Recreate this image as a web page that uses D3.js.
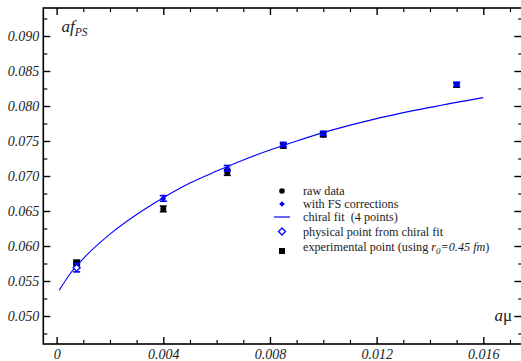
<!DOCTYPE html>
<html>
<head>
<meta charset="utf-8">
<script src="https://cdn.jsdelivr.net/npm/d3@7/dist/d3.min.js"></script>
<style>
  html, body { margin: 0; padding: 0; background: #fff; }
  svg { display: block; }
</style>
</head>
<body>
<svg id="chart" width="521" height="361"></svg>
<script>
// Quark mass values and decay constants
const muValues = [0.0040, 0.0064, 0.0085, 0.0100, 0.0150];
const rawValues = [0.0653, 0.0705, 0.0743, 0.0759, 0.0830];
const rawErrors = [0.0004, 0.0004, 0.0003, 0.0003, 0.0003];
const fsValues = [0.0668, 0.0711, 0.0745, 0.0761, 0.0831];
const fsErrors = [0.0004, 0.0004, 0.0003, 0.0003, 0.0003];

// Chiral fit curve
const fitMu = [0.0001, 0.0005, 0.0010, 0.0020, 0.0030, 0.0040, 0.0050, 0.0060,
               0.0070, 0.0080, 0.0090, 0.0100, 0.0120, 0.0140, 0.0160];
const fitValues = [0.0537, 0.0560, 0.0582, 0.0617, 0.0645, 0.0669, 0.0690, 0.0707,
                   0.0723, 0.0737, 0.0750, 0.0762, 0.0782, 0.0798, 0.0812];

// Physical point and experimental value
const physicalPoint = { mu: 0.00075, f: 0.0569, err: 0.0006 };
const experimentalPoint = { mu: 0.00075, f: 0.0576 };

// Axis ticks
const xMajorTicks = [0, 0.004, 0.008, 0.012, 0.016];
const xTickLabels = ["0", "0.004", "0.008", "0.012", "0.016"];
const yMajorTicks = [0.050, 0.055, 0.060, 0.065, 0.070, 0.075, 0.080, 0.085, 0.090];
const yTickLabels = ["0.050", "0.055", "0.060", "0.065", "0.070", "0.075", "0.080", "0.085", "0.090"];

const legendLabels = ["raw data", "with FS corrections", "chiral fit  (4 points)",
                      "physical point from chiral fit", "experimental point (using "];

const SERIF = "'Liberation Serif'";
const INK = "#222";

const svg = d3.select("#chart");
const plotL = 43.3, plotR = 523.3, plotT = 8, plotB = 344;

const x = d3.scaleLinear().domain([-0.0005, 0.0175]).range([plotL, plotR]);
const y = d3.scaleLinear().domain([0.046, 0.094]).range([plotB, plotT]);

const blue = "#0000ff";

// Frame
svg.append("rect")
  .attr("x", plotL).attr("y", plotT)
  .attr("width", plotR - plotL).attr("height", plotB - plotT)
  .attr("fill", "none").attr("stroke", "#000").attr("stroke-width", 1.6);

// Ticks (inward on all four sides)
const xMinor = d3.range(0, 0.0175, 0.001).filter(v => !xMajorTicks.some(t => Math.abs(t - v) < 1e-9));
const yMinor = d3.range(0.0475, 0.094, 0.0025).filter(v => !yMajorTicks.some(t => Math.abs(t - v) < 1e-9));

function styleLabels(g) {
  g.selectAll("text")
    .style("font-family", SERIF).style("font-style", "italic")
    .style("font-size", "14px").style("fill", INK);
}

const bottomAxis = d3.axisBottom(x).tickValues(xMajorTicks).tickSizeInner(-7).tickSizeOuter(0)
  .tickFormat((d, i) => xTickLabels[i]).tickPadding(5);
const gB = svg.append("g").attr("transform", `translate(0,${plotB})`).call(bottomAxis);
gB.select(".domain").remove();
styleLabels(gB);
gB.selectAll("line").attr("stroke-width", 1.4);
svg.append("g").attr("transform", `translate(0,${plotB})`)
  .call(d3.axisBottom(x).tickValues(xMinor).tickSizeInner(-4).tickSizeOuter(0).tickFormat(""))
  .call(g => g.select(".domain").remove())
  .selectAll("line").attr("stroke-width", 1.2);

svg.append("g").attr("transform", `translate(0,${plotT})`)
  .call(d3.axisTop(x).tickValues(xMajorTicks).tickSizeInner(-7).tickSizeOuter(0).tickFormat(""))
  .call(g => g.select(".domain").remove())
  .selectAll("line").attr("stroke-width", 1.4);
svg.append("g").attr("transform", `translate(0,${plotT})`)
  .call(d3.axisTop(x).tickValues(xMinor).tickSizeInner(-4).tickSizeOuter(0).tickFormat(""))
  .call(g => g.select(".domain").remove())
  .selectAll("line").attr("stroke-width", 1.2);

const leftAxis = d3.axisLeft(y).tickValues(yMajorTicks).tickSizeInner(-7).tickSizeOuter(0)
  .tickFormat((d, i) => yTickLabels[i]).tickPadding(4);
const gL = svg.append("g").attr("transform", `translate(${plotL},0)`).call(leftAxis);
gL.select(".domain").remove();
styleLabels(gL);
gL.selectAll("line").attr("stroke-width", 1.4);
svg.append("g").attr("transform", `translate(${plotL},0)`)
  .call(d3.axisLeft(y).tickValues(yMinor).tickSizeInner(-4).tickSizeOuter(0).tickFormat(""))
  .call(g => g.select(".domain").remove())
  .selectAll("line").attr("stroke-width", 1.2);

svg.append("g").attr("transform", `translate(${plotR},0)`)
  .call(d3.axisRight(y).tickValues(yMajorTicks).tickSizeInner(-9).tickSizeOuter(0).tickFormat(""))
  .call(g => g.select(".domain").remove())
  .selectAll("line").attr("stroke-width", 1.4);
svg.append("g").attr("transform", `translate(${plotR},0)`)
  .call(d3.axisRight(y).tickValues(yMinor).tickSizeInner(-5).tickSizeOuter(0).tickFormat(""))
  .call(g => g.select(".domain").remove())
  .selectAll("line").attr("stroke-width", 1.2);

// Error bar helper
function errorBar(g, cx, v, e, color, capW) {
  g.append("line").attr("x1", x(cx)).attr("x2", x(cx))
    .attr("y1", y(v - e)).attr("y2", y(v + e)).attr("stroke", color).attr("stroke-width", 1.4);
  [v - e, v + e].forEach(yy => {
    g.append("line").attr("x1", x(cx) - capW).attr("x2", x(cx) + capW)
      .attr("y1", y(yy)).attr("y2", y(yy)).attr("stroke", color).attr("stroke-width", 1.6);
  });
}

// Raw data
const gRaw = svg.append("g");
muValues.forEach((m, i) => {
  errorBar(gRaw, m, rawValues[i], rawErrors[i], "#000", 3.5);
  gRaw.append("circle").attr("cx", x(m)).attr("cy", y(rawValues[i])).attr("r", 3).attr("fill", "#000");
});

// Experimental point
svg.append("rect")
  .attr("x", x(experimentalPoint.mu) - 3.5).attr("y", y(experimentalPoint.f) - 3.5)
  .attr("width", 7).attr("height", 7).attr("fill", "#000");

// Chiral fit curve
const line = d3.line().x(d => x(d[0])).y(d => y(d[1])).curve(d3.curveMonotoneX);
svg.append("path")
  .datum(fitMu.map((m, i) => [m, fitValues[i]]))
  .attr("d", line).attr("fill", "none").attr("stroke", blue).attr("stroke-width", 1.1);

// FS corrected data
const diamond = (cx, cy, r) => `M${cx},${cy - r}L${cx + r},${cy}L${cx},${cy + r}L${cx - r},${cy}Z`;
const gFs = svg.append("g");
muValues.forEach((m, i) => {
  errorBar(gFs, m, fsValues[i], fsErrors[i], blue, 3.5);
  gFs.append("path").attr("d", diamond(x(m), y(fsValues[i]), 3)).attr("fill", blue);
});

// Physical point from the chiral fit
errorBar(svg.append("g"), physicalPoint.mu, physicalPoint.f, physicalPoint.err, blue, 3.5);
svg.append("path").attr("d", diamond(x(physicalPoint.mu), y(physicalPoint.f), 3.5))
  .attr("fill", "#fff").attr("stroke", blue).attr("stroke-width", 1.3);

// Axis titles
const yTitle = svg.append("text").attr("x", 61.5).attr("y", 32)
  .style("font-family", SERIF).style("font-size", "17px").style("font-style", "italic").style("fill", INK);
yTitle.append("tspan").text("af");
yTitle.append("tspan").style("font-size", "11.5px").attr("dy", 4).text("PS");

const xTitle = svg.append("text").attr("x", 512).attr("y", 321).attr("text-anchor", "end")
  .style("font-family", SERIF).style("font-size", "17px").style("fill", INK);
xTitle.append("tspan").style("font-style", "italic").text("a");
xTitle.append("tspan").text("μ");

// Legend
const legX = 282, legTextX = 303;
const legRows = [191, 204, 217, 231.5, 247];
const leg = svg.append("g");
leg.append("circle").attr("cx", legX).attr("cy", legRows[0]).attr("r", 2.8).attr("fill", "#000");
leg.append("path").attr("d", diamond(legX, legRows[1], 2.8)).attr("fill", blue);
leg.append("line").attr("x1", legX - 8).attr("x2", legX + 8)
  .attr("y1", legRows[2]).attr("y2", legRows[2]).attr("stroke", blue).attr("stroke-width", 1.2);
leg.append("path").attr("d", diamond(legX, legRows[3], 3.5))
  .attr("fill", "#fff").attr("stroke", blue).attr("stroke-width", 1.3);
leg.append("rect").attr("x", legX - 3).attr("y", legRows[4] + 1).attr("width", 6).attr("height", 6).attr("fill", "#000");

legendLabels.forEach((t, i) => {
  const txt = leg.append("text").attr("x", legTextX).attr("y", legRows[i] + 4)
    .style("font-family", SERIF).style("font-size", "12.2px").style("fill", INK)
    .style("white-space", "pre").text(t);
  if (i === 4) {
    txt.append("tspan").style("font-style", "italic").text("r");
    txt.append("tspan").style("font-style", "italic").style("font-size", "9px").attr("dy", 3).text("0");
    txt.append("tspan").style("font-style", "italic").attr("dy", -3).text("=0.45 fm");
    txt.append("tspan").text(")");
  }
});
</script>
</body>
</html>
